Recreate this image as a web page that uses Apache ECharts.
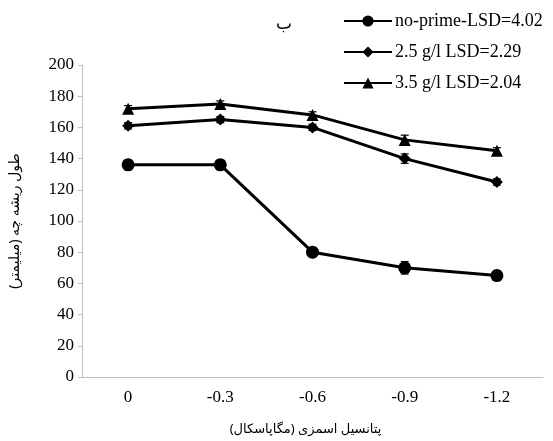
<!DOCTYPE html>
<html>
<head>
<meta charset="utf-8">
<script src="https://cdn.jsdelivr.net/npm/echarts@6/dist/echarts.min.js"></script>
<style>
  html, body { margin: 0; padding: 0; background: #fff; }
  #chart { width: 553px; height: 441px; }
</style>
</head>
<body>
<div id="chart"></div>
<script>
// دادهها
const categories = ['0', '-0.3', '-0.6', '-0.9', '-1.2']
const noPrime = [136, 136, 80, 70, 65]
const noPrimeErr = [3, 3, 3, 4, 3]
const g25 = [161, 165, 160, 140, 125]
const g25Err = [2, 2, 2, 3, 2]
const g35 = [172, 175, 168, 152, 145]
const g35Err = [2, 2, 2, 3, 2]
const seriesNames = ['no-prime-LSD=4.02', '2.5 g/l LSD=2.29', '3.5 g/l LSD=2.04']

const chart = echarts.init(document.getElementById('chart'))

const serif = 'Liberation Serif, Times New Roman, serif'
const sans = 'Noto Sans, DejaVu Sans, sans-serif'

function errorBars (values, errs) {
  return {
    type: 'custom',
    silent: true,
    z: 1,
    data: values.map((v, i) => [i, v - errs[i], v + errs[i]]),
    renderItem: (params, api) => {
      const lo = api.coord([api.value(0), api.value(1)])
      const hi = api.coord([api.value(0), api.value(2)])
      const w = 4
      const style = { stroke: '#000', lineWidth: 1.2 }
      return {
        type: 'group',
        children: [
          { type: 'line', shape: { x1: lo[0], y1: lo[1], x2: hi[0], y2: hi[1] }, style },
          { type: 'line', shape: { x1: lo[0] - w, y1: lo[1], x2: lo[0] + w, y2: lo[1] }, style },
          { type: 'line', shape: { x1: hi[0] - w, y1: hi[1], x2: hi[0] + w, y2: hi[1] }, style }
        ]
      }
    }
  }
}

function lineSeries (name, data, symbol, size) {
  return {
    name,
    type: 'line',
    data,
    symbol,
    symbolSize: size,
    z: 3,
    lineStyle: { color: '#000', width: 3 },
    itemStyle: { color: '#000' }
  }
}

chart.setOption({
  animation: false,
  title: {
    text: 'ب',
    left: 271,
    top: 11,
    textStyle: { fontFamily: sans, fontSize: 17, fontWeight: 'normal', color: '#000' }
  },
  legend: {
    orient: 'vertical',
    left: 338,
    top: 7,
    itemWidth: 48,
    itemHeight: 14,
    itemGap: 13,
    data: seriesNames,
    textStyle: { fontFamily: serif, fontSize: 18, color: '#000', padding: [0, 0, 0, -2] }
  },
  grid: { left: 82, right: 10, top: 65, bottom: 63 },
  xAxis: {
    type: 'category',
    data: categories,
    boundaryGap: true,
    name: 'پتانسیل اسمزی (مگاپاسکال)',
    nameLocation: 'middle',
    nameGap: 46,
    nameTextStyle: { fontFamily: sans, fontSize: 13, color: '#000', padding: [0, 14, 0, 0] },
    axisLine: { lineStyle: { color: '#bfbfbf' } },
    axisTick: { alignWithLabel: true, length: 4, lineStyle: { color: '#bfbfbf' } },
    axisLabel: { fontFamily: serif, fontSize: 17, color: '#000', margin: 12 },
    splitLine: { show: false }
  },
  yAxis: {
    type: 'value',
    min: 0,
    max: 200,
    interval: 20,
    name: 'طول ریشه چه (میلیمتر)',
    nameLocation: 'middle',
    nameGap: 60,
    nameTextStyle: { fontFamily: sans, fontSize: 14, color: '#000' },
    axisLine: { show: true, lineStyle: { color: '#bfbfbf' } },
    axisTick: { show: true, length: 4, lineStyle: { color: '#bfbfbf' } },
    axisLabel: { fontFamily: serif, fontSize: 17, color: '#000', margin: 8 },
    splitLine: { show: false }
  },
  series: [
    lineSeries(seriesNames[0], noPrime, 'circle', 13),
    lineSeries(seriesNames[1], g25, 'diamond', 12),
    lineSeries(seriesNames[2], g35, 'triangle', 12),
    errorBars(noPrime, noPrimeErr),
    errorBars(g25, g25Err),
    errorBars(g35, g35Err)
  ]
})
</script>
</body>
</html>
